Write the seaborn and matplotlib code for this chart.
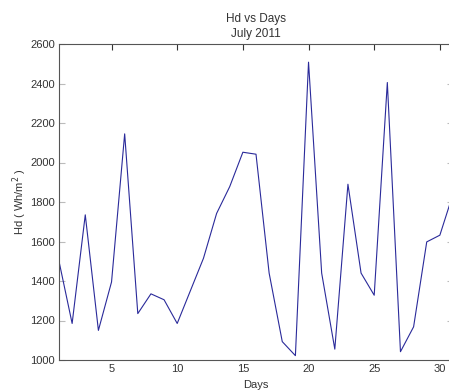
import matplotlib
matplotlib.use("Agg")
import matplotlib.pyplot as plt
import seaborn as sns
import pandas as pd

days = list(range(1, 32))
hd = [1500, 1185, 1735, 1150, 1395, 2145, 1235, 1335, 1305, 1185,
      1350, 1515, 1742, 1878, 2052, 2042, 1440, 1093, 1022, 2508,
      1440, 1055, 1890, 1440, 1328, 2405, 1042, 1168, 1598, 1632, 1840]
yticks = [1000, 1200, 1400, 1600, 1800, 2000, 2200, 2400, 2600]
xticks = [5, 10, 15, 20, 25, 30]

sns.set_style("white")
plt.rcParams['font.family'] = ['Liberation Sans', 'DejaVu Sans']

df = pd.DataFrame({"Days": days, "Hd": hd})

fig = plt.figure(figsize=(4.49, 3.91), dpi=100)
ax = fig.add_axes([59/449, 31/391, 394/449, 316/391])
sns.lineplot(data=df, x="Days", y="Hd", ax=ax, color='#2a2a9a', linewidth=0.8)

ax.set_xlim(1, 31)
ax.set_ylim(1000, 2600)
ax.set_xticks(xticks)
ax.set_yticks(yticks)
ax.tick_params(direction='in', length=4, width=0.8, labelsize=8,
               colors='#333333', top=True, right=True, pad=3)
ax.tick_params(axis='y', which='both', right=True, color='#bbbbbb')
ax.tick_params(axis='y', labelcolor='#333333', left=True)
for s in ax.spines.values():
    s.set_color('#555555')
    s.set_linewidth(0.8)
ax.set_xlabel("Days", fontsize=8, color='#333333', labelpad=4)
ax.set_ylabel("Hd ( Wh/m$^2$ )", fontsize=8, color='#333333')
ax.yaxis.set_label_coords(-0.075, 0.5)
ax.set_title("Hd vs Days\nJuly 2011", fontsize=8.5, color='#333333', pad=5, linespacing=1.3)

fig.savefig("out.png", dpi=100)
